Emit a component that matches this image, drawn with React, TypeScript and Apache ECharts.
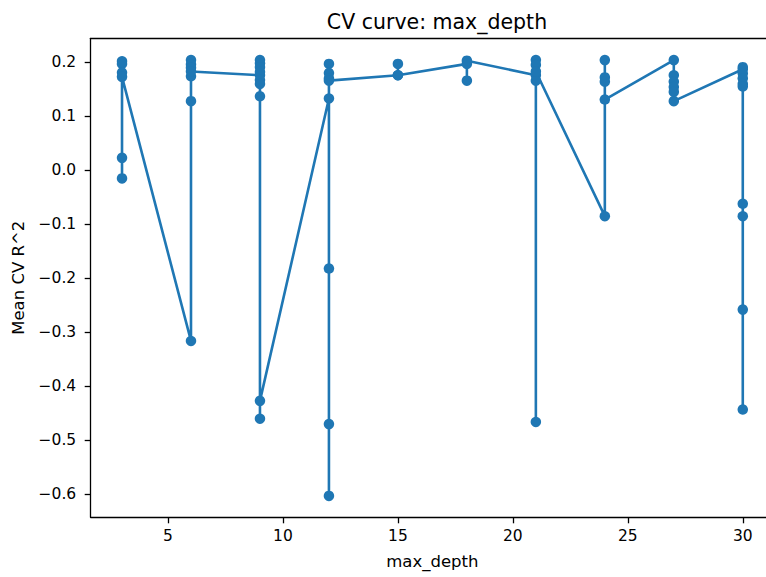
import React, { useEffect, useRef } from "react";
import * as echarts from "echarts";

// max_depth values (x) and the mean CV R^2 of each run, in plotting order
const depths = [3, 6, 9, 12, 15, 18, 21, 24, 27, 30];
const depth3 = [0.202, 0.197, 0.181, 0.023, -0.015, 0.173];
const depth6 = [-0.316, 0.128, 0.204, 0.196, 0.19, 0.174, 0.183];
const depth9 = [0.176, 0.204, 0.198, 0.191, 0.182, 0.167, 0.16, 0.137, -0.46, -0.427];
const depth12 = [0.133, -0.182, -0.47, -0.603, 0.197, 0.18, 0.17, 0.166];
const depth15 = [0.176, 0.197, 0.176];
const depth18 = [0.197, 0.166, 0.203];
const depth21 = [0.176, 0.204, 0.195, -0.466, 0.166, 0.183];
const depth24 = [-0.085, 0.204, 0.172, 0.164, 0.131];
const depth27 = [0.204, 0.176, 0.164, 0.154, 0.145, 0.128];
const depth30 = [0.187, 0.191, 0.179, 0.17, 0.16, 0.155, -0.062, -0.085, -0.258, -0.443];
const scores = [depth3, depth6, depth9, depth12, depth15, depth18, depth21, depth24, depth27, depth30];

const xTicks = [5, 10, 15, 20, 25, 30];
const yTicks = [-0.6, -0.5, -0.4, -0.3, -0.2, -0.1, 0.0, 0.1, 0.2];

const FONT = "DejaVu Sans";

export default function App() {
  const ref = useRef<HTMLDivElement>(null);
  useEffect(() => {
    if (!ref.current) return;
    const chart = echarts.init(ref.current, null, { renderer: "svg" });
    const data: number[][] = [];
    depths.forEach((d, i) => scores[i].forEach((v) => data.push([d, v])));
    const fmtY = (v: number) => {
      const s = Math.abs(v).toFixed(1);
      return v < -1e-9 ? "\u2212" + s : s;
    };
    chart.setOption({
      animation: false,
      backgroundColor: "#ffffff",
      title: {
        text: "CV curve: max_depth",
        left: 432,
        textAlign: "center",
        top: 6,
        textStyle: { fontFamily: FONT, fontSize: 20.5, fontWeight: "normal", color: "#000" },
      },
      grid: { left: 90.7, top: 38.3, right: 0, bottom: 59.7, containLabel: false },
      xAxis: [
        {
          type: "value",
          min: 1.638,
          max: 31.01,
          name: "max_depth",
          nameLocation: "middle",
          nameGap: 36,
          nameTextStyle: { fontFamily: FONT, fontSize: 16.5, color: "#000", padding: [0, 0, 0, 8] },
          axisLine: { show: true, onZero: false, lineStyle: { color: "#000", width: 1.3 } },
          axisTick: { show: true, length: 6, inside: false, customValues: xTicks, lineStyle: { color: "#000", width: 1.3 } },
          axisLabel: {
            customValues: xTicks,
            margin: 11,
            fontFamily: FONT,
            fontSize: 15.5,
            color: "#000",
          },
          splitLine: { show: false },
        },
        {
          type: "value",
          position: "top",
          min: 1.638,
          max: 31.01,
          axisLine: { show: true, onZero: false, lineStyle: { color: "#000", width: 1.3 } },
          axisTick: { show: false },
          axisLabel: { show: false },
          splitLine: { show: false },
        },
      ],
      yAxis: {
        type: "value",
        min: -0.6426,
        max: 0.2444,
        name: "Mean CV R^2",
        nameLocation: "middle",
        nameRotate: 90,
        nameGap: 64,
        nameTextStyle: { fontFamily: FONT, fontSize: 16.5, color: "#000" },
        axisLine: { show: true, onZero: false, lineStyle: { color: "#000", width: 1.3 } },
        axisTick: { show: true, length: 6, inside: false, customValues: yTicks, lineStyle: { color: "#000", width: 1.3 } },
        axisLabel: {
          customValues: yTicks,
          margin: 14.5,
          fontFamily: FONT,
          fontSize: 15.5,
          color: "#000",
          formatter: (v: number) => fmtY(v),
        },
        splitLine: { show: false },
      },
      series: [
        {
          type: "line",
          xAxisIndex: 0,
          data,
          symbol: "circle",
          symbolSize: 10.5,
          showAllSymbol: true,
          lineStyle: { color: "#1f77b4", width: 2.6 },
          itemStyle: { color: "#1f77b4", borderWidth: 0 },
          clip: false,
        },
      ],
    });
    return () => chart.dispose();
  }, []);
  return (
    <div
      ref={ref}
      style={{ position: "absolute", left: 0, top: 0, width: 766, height: 577 }}
    />
  );
}
